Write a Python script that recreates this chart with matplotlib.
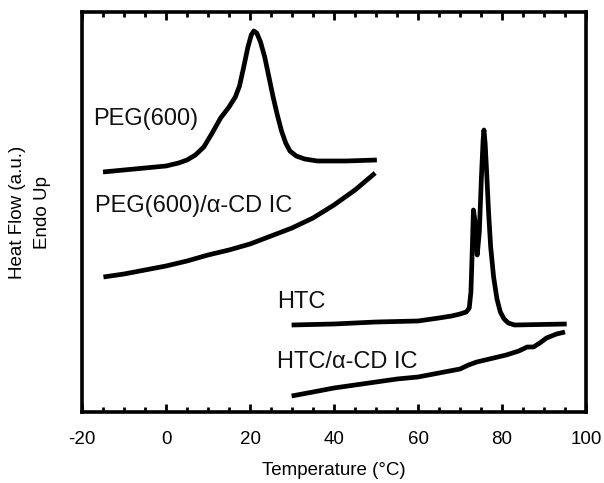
import matplotlib
matplotlib.use("Agg")
import matplotlib.pyplot as plt
from matplotlib.ticker import MultipleLocator

plt.rcParams['font.family'] = ['Liberation Sans', 'DejaVu Sans']
plt.rcParams['axes.unicode_minus'] = False

# DSC traces (temperature in °C, heat flow in arbitrary units, endo up)
peg_T = [-15.0, -10, -5, 0, 3, 5, 7, 9, 11, 13, 15, 16.5, 17.5, 18.5, 19.5,
         20.3, 20.9, 21.6, 22.5, 23.5, 24.5, 25.5, 26.5, 27.5, 28.5, 29.5,
         31, 33, 36, 43, 50.2]
peg_H = [240, 242, 244, 246, 249, 252, 257, 265, 279, 294, 305, 315, 326, 345, 365,
         377, 381, 379, 370, 355, 335, 315, 297, 281, 269, 261,
         256, 253, 251, 251, 252]

peg_ic_T = [-14.9, -10, -5, 0, 5, 10, 15, 20, 25, 30, 35, 40, 45, 49.8]
peg_ic_H = [135, 138, 142, 146, 151, 157, 162, 168, 176, 184, 194, 207, 222, 239]

htc_T = [29.9, 40, 50, 60, 65, 68, 70, 71.5, 72.2, 72.6, 72.9, 73.2, 73.6, 74.1,
         74.6, 75.1, 75.5, 75.7, 76.0, 76.4, 76.8, 77.3, 78.0, 78.8, 79.6, 80.5,
         81.5, 83, 95.4]
htc_H = [87, 88, 90, 91, 94, 96, 98, 100, 104, 120, 160, 202, 190, 157,
         180, 235, 272, 282, 268, 235, 200, 165, 135, 113, 100, 93,
         89, 87, 88]

htc_ic_T = [29.9, 35, 40, 45, 50, 55, 60, 65, 70, 72, 74, 78, 81, 84, 86, 87.5,
            89, 90.6, 93, 95]
htc_ic_H = [16, 20, 24, 27, 30, 33, 35, 39, 43, 47, 50, 54, 57, 61, 65, 65,
            69, 74, 78, 80]

curve_labels = ["PEG(600)", "PEG(600)/\u03b1-CD IC", "HTC", "HTC/\u03b1-CD IC"]
label_T = [-17.4, -16.9, 26.4, 26.4]
label_H = [287, 200, 104, 44]

fig = plt.figure(figsize=(6.04, 4.83), dpi=100)
ax = fig.add_axes([0.1358, 0.147, 0.8344, 0.8282])

for T, H in [(peg_T, peg_H), (peg_ic_T, peg_ic_H), (htc_T, htc_H), (htc_ic_T, htc_ic_H)]:
    ax.plot(T, H, color='black', lw=3.4, solid_joinstyle='round', solid_capstyle='butt')

for txt, tx, ty in zip(curve_labels, label_T, label_H):
    ax.text(tx, ty, txt, fontsize=17, ha='left', va='baseline', color='#111111')

ax.set_xlim(-20, 100)
ax.set_ylim(0, 400)
ax.xaxis.set_major_locator(MultipleLocator(20))
ax.xaxis.set_minor_locator(MultipleLocator(5))
ax.tick_params(axis='x', which='both', direction='in', top=True, bottom=True,
               width=2, labelsize=13.5, pad=14)
ax.tick_params(axis='x', which='major', length=6)
ax.tick_params(axis='x', which='minor', length=3.5)
ax.set_yticks([])
for s in ax.spines.values():
    s.set_linewidth(2.6)

ax.set_xlabel("Temperature (°C)", fontsize=13.5, labelpad=10)
fig.text(0.05, 0.561, "Heat Flow (a.u.)\nEndo Up", rotation=90, ha='center',
         va='center', fontsize=13.5, multialignment='center', linespacing=1.6)

fig.savefig("out.png", dpi=100)
